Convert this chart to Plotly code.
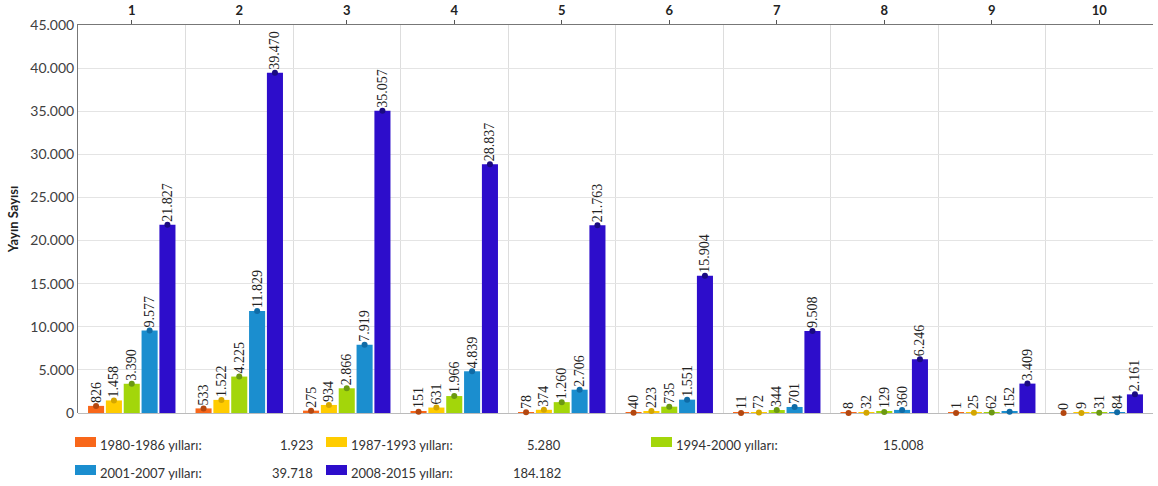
import plotly.graph_objects as go

# categories (top axis) and series values
categories = [1, 2, 3, 4, 5, 6, 7, 8, 9, 10]
series_names = ["1980-1986 yılları:", "1987-1993 yılları:", "1994-2000 yılları:",
                "2001-2007 yılları:", "2008-2015 yılları:"]
y_1980_1986 = [826, 533, 275, 151, 78, 40, 11, 8, 1, 0]
y_1987_1993 = [1458, 1522, 934, 631, 374, 223, 72, 32, 25, 9]
y_1994_2000 = [3390, 4225, 2866, 1966, 1260, 735, 344, 129, 62, 31]
y_2001_2007 = [9577, 11829, 7919, 4839, 2706, 1551, 701, 360, 152, 84]
y_2008_2015 = [21827, 39470, 35057, 28837, 21763, 15904, 9508, 6246, 3409, 2161]
totals = [1923, 5280, 15008, 39718, 184182]
y_ticks = [0, 5000, 10000, 15000, 20000, 25000, 30000, 35000, 40000, 45000]

series = [y_1980_1986, y_1987_1993, y_1994_2000, y_2001_2007, y_2008_2015]
bar_colors = ["#F8671A", "#FFCC00", "#A3D60A", "#1B8ECF", "#2D0DCB"]
dot_colors = ["#B4470F", "#D4A600", "#6B9812", "#0F6BA6", "#1A0A80"]

# plot area in pixels (1158 x 486 window)
W, H = 1158, 486
L, R, T, B = 78, 5, 25, 73
PW, PH = W - L - R, H - T - B


def px_x(x):
    return (x - L) / PW


def px_y(y):
    return (H - B - y) / PH


fig = go.Figure()

for name, vals, col in zip(series_names, series, bar_colors):
    fig.add_trace(
        go.Bar(
            x=categories,
            y=vals,
            name=name,
            marker_color=col,
            marker_line_width=0,
            texttemplate="%{y:,}",
            textposition="outside",
            textangle=-90,
            constraintext="none",
            cliponaxis=False,
            textfont=dict(family="Liberation Serif", size=14, color="#222222"),
            showlegend=False,
        )
    )

# dots on bar tops
for name, vals, col in zip(series_names, series, dot_colors):
    fig.add_trace(
        go.Scatter(
            x=categories,
            y=vals,
            mode="markers",
            marker=dict(color=col, size=6),
            cliponaxis=False,
            showlegend=False,
            hoverinfo="skip",
        )
    )

# legend built from annotations + swatches
swatch_left = [75, 326, 651, 75, 326]
value_right = [315, 563, 926, 315, 563]
row_y = [442, 442, 442, 470, 470]
shapes = []
annotations = []
for i, name in enumerate(series_names):
    sx, vr, ry = swatch_left[i], value_right[i], row_y[i]
    shapes.append(dict(
        type="rect", xref="paper", yref="paper", opacity=1,
        x0=px_x(sx), x1=px_x(sx + 21), y0=px_y(ry - 5), y1=px_y(ry + 5),
        fillcolor=bar_colors[i], line_width=0,
    ))
    annotations.append(dict(
        text=name, xref="paper", yref="paper", x=px_x(sx + 23), y=px_y(ry + 3),
        xanchor="left", yanchor="middle", showarrow=False,
        font=dict(family="Lato", size=13, color="#333333"),
    ))
    annotations.append(dict(
        text=f"{totals[i]:,}".replace(",", "."), xref="paper", yref="paper",
        x=px_x(vr), y=px_y(ry + 3), xanchor="right", yanchor="middle",
        showarrow=False, font=dict(family="Lato", size=13, color="#333333"),
    ))

fig.update_layout(
    width=W,
    height=H,
    barmode="group",
    bargap=0.17,
    bargroupgap=0.1,
    scattermode="group",
    scattergap=0.17,
    separators=",.",
    template="simple_white",
    plot_bgcolor="white",
    paper_bgcolor="white",
    margin=dict(l=L, r=R, t=T, b=B, autoexpand=False),
    font=dict(family="Lato", size=13, color="#404040"),
    shapes=shapes,
    annotations=annotations,
)
fig.update_xaxes(
    side="top",
    automargin=False,
    range=[0.5, 10.5],
    tickvals=categories,
    ticktext=[f"<b>{c}</b>" for c in categories],
    ticks="outside",
    ticklen=4,
    tickcolor="#555555",
    tickfont=dict(family="Lato", size=13, color="#222222"),
    showline=True,
    linecolor="#777777",
    linewidth=1,
    showgrid=False,
    minor=dict(tick0=0.5, dtick=1, showgrid=True, gridcolor="#DDDDDD", ticks=""),
)
fig.update_yaxes(
    automargin=False,
    range=[0, 45000],
    tickvals=y_ticks,
    tickformat=",",
    ticks="",
    tickfont=dict(family="Lato", size=14, color="#404040"),
    showline=True,
    linecolor="#777777",
    linewidth=1,
    showgrid=True,
    gridcolor="#E4E4E4",
    zeroline=True,
    zerolinecolor="#BBBBBB",
    title=dict(text="<b>Yayın Sayısı</b>", standoff=8,
               font=dict(family="Lato", size=13, color="#222222")),
)

fig.write_html(
    "out.html",
    config={"displayModeBar": False},
    post_script="document.body.style.margin='0';",
)
